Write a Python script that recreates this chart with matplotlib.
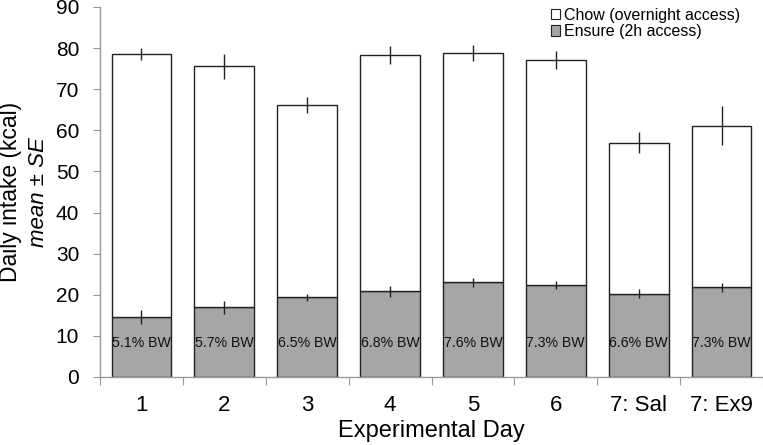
import matplotlib
matplotlib.use("Agg")
import matplotlib.pyplot as plt
import numpy as np
from matplotlib.patches import Patch

plt.rcParams['font.family'] = ['Liberation Sans', 'DejaVu Sans']

days = ["1", "2", "3", "4", "5", "6", "7: Sal", "7: Ex9"]
ensure = [14.6, 17.0, 19.4, 20.8, 23.0, 22.4, 20.3, 21.8]
ensure_se = [1.8, 1.6, 0.9, 1.3, 1.2, 1.0, 1.0, 1.1]
chow = [64.0, 58.6, 46.7, 57.5, 55.8, 54.7, 36.7, 39.3]
total_se = [1.4, 3.0, 2.0, 2.2, 2.0, 2.2, 2.5, 4.7]
bw_labels = ["5.1% BW", "5.7% BW", "6.5% BW", "6.8% BW", "7.6% BW", "7.3% BW", "6.6% BW", "7.3% BW"]

fig = plt.figure(figsize=(7.63, 4.45), dpi=100)
ax = fig.add_axes([100/763, 68/445, 663/763, 370/445])

x = np.arange(len(days))
w = 0.72
total = np.array(ensure) + np.array(chow)
ax.bar(x, ensure, w, color='#a6a6a6', edgecolor='#222222', linewidth=1.0, zorder=2)
ax.bar(x, chow, w, bottom=ensure, color='white', edgecolor='#222222', linewidth=1.0, zorder=2)
ax.errorbar(x, ensure, yerr=ensure_se, fmt='none', ecolor='#222222', elinewidth=1.0, capsize=0, zorder=3)
ax.errorbar(x, total, yerr=total_se, fmt='none', ecolor='#222222', elinewidth=1.0, capsize=0, zorder=3)

for xi, lab in zip(x, bw_labels):
    ax.text(xi, 8.3, lab, ha='center', va='center', fontsize=10.2, color='#111111', zorder=4)

ax.set_xlim(-0.5, len(days) - 0.5)
ax.set_ylim(0, 90)
ax.set_yticks(np.arange(0, 91, 10))
ax.tick_params(axis='y', labelsize=15, length=5, color='#999999', direction='out', pad=10)
ax.set_xticks(np.arange(-0.5, len(days), 1))
ax.set_xticklabels([])
ax.tick_params(axis='x', which='major', length=6, color='#999999', direction='out')
ax.set_xticks(x, minor=True)
ax.set_xticklabels(days, minor=True, fontsize=16)
ax.tick_params(axis='x', which='minor', length=0, pad=13)

for s in ['top', 'right']:
    ax.spines[s].set_visible(False)
for s in ['left', 'bottom']:
    ax.spines[s].set_color('#999999')
    ax.spines[s].set_linewidth(1.0)

ax.set_xlabel("Experimental Day", fontsize=17, labelpad=3)
fig.text(11/763, 1 - 192/445, "Daily intake (kcal)", rotation=90, ha='center', va='center', fontsize=16.5)
fig.text(38/763, 1 - 192/445, "mean ± SE", rotation=90, ha='center', va='center', fontsize=16, style='italic')

handles = [Patch(facecolor='white', edgecolor='#222222', linewidth=0.8),
           Patch(facecolor='#a6a6a6', edgecolor='#222222', linewidth=0.8)]
leg = ax.legend(handles, ["Chow (overnight access)", "Ensure (2h access)"], loc='upper left',
          frameon=False, fontsize=11.5, handlelength=0.6, handleheight=0.6,
          handletextpad=0.25, labelspacing=0.1, borderpad=0.1)
leg.set_bbox_to_anchor((541/763, 1 + 2/445), transform=fig.transFigure)

fig.savefig("out.png", dpi=100)
